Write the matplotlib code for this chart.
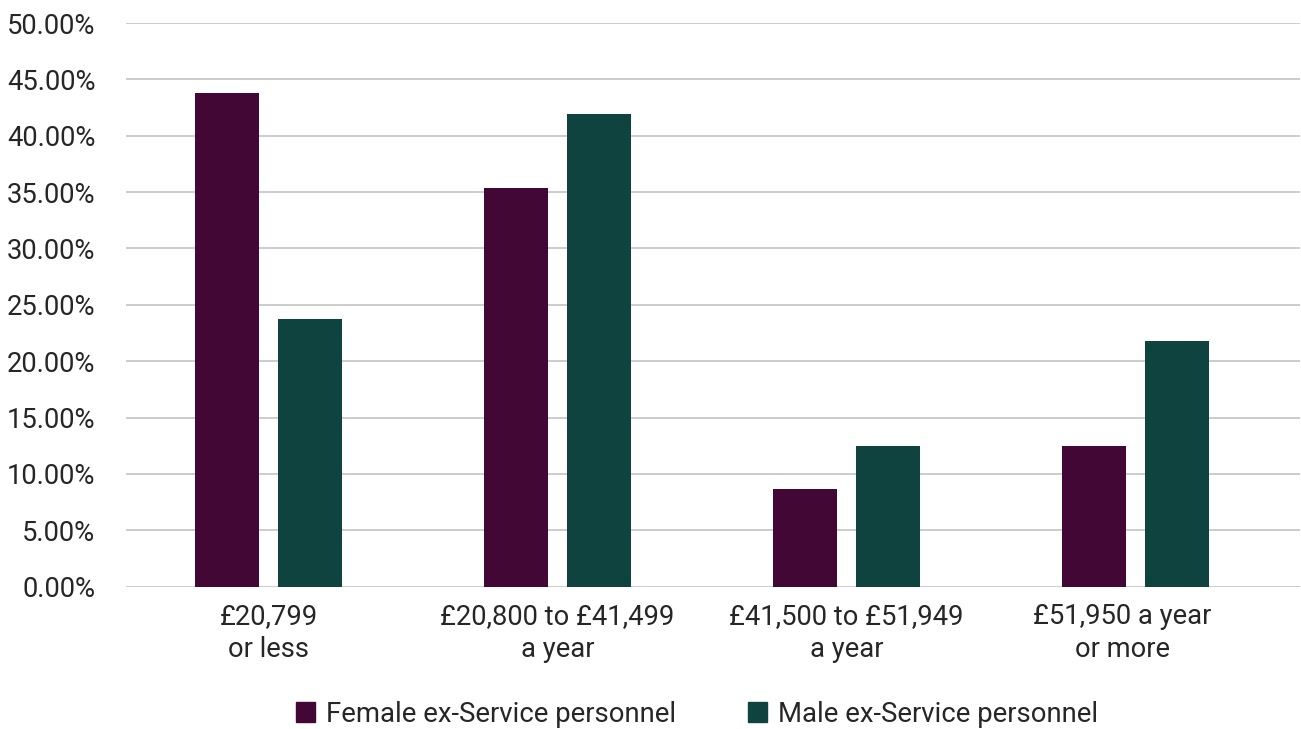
import numpy as np
import matplotlib.pyplot as plt
from matplotlib.patches import Patch
from matplotlib.transforms import ScaledTranslation

plt.rcParams['font.family'] = ['Roboto', 'DejaVu Sans']

# income bands and share of each group (%)
bands = ['£20,799\nor less', '£20,800 to £41,499\na year',
         '£41,500 to £51,949\na year', '£51,950 a year\nor more']
female = [43.79, 35.36, 8.67, 12.48]
male = [23.74, 41.93, 12.48, 21.79]

female_col = '#430736'
male_col = '#0e4340'
text_col = '#262626'

fig = plt.figure(figsize=(13.01, 7.29), dpi=100)
ax = fig.add_axes([126 / 1301, 1 - 586.7 / 729, 1174 / 1301, 563.7 / 729])

x = np.arange(len(bands))
w = 0.2215
ax.bar(x - 0.1436, female, w, color=female_col, zorder=3)
ax.bar(x + 0.1436, male, w, color=male_col, zorder=3)

ax.set_ylim(0, 50)
ax.set_xlim(-0.493, 3.569)
ax.set_yticks(np.arange(0, 51, 5))
ax.set_yticklabels([f'{v:.2f}%' for v in np.arange(0, 51, 5)])
ax.set_xticks(x)
ax.set_xticklabels(bands, linespacing=1.25)
ax.tick_params(axis='both', length=0, labelsize=19.7, colors=text_col)
ax.tick_params(axis='x', pad=12)
ax.tick_params(axis='y', pad=22)
ax.grid(axis='y', color='#bfbfbf', linewidth=1.1, zorder=0)
for s in ax.spines.values():
    s.set_visible(False)

# the last band's label sits a little left of its bars
lbl = ax.get_xticklabels()[3]
lbl.set_transform(lbl.get_transform() + ScaledTranslation(-0.13, 0, fig.dpi_scale_trans))

handles = [Patch(color=female_col, label='Female ex-Service personnel'),
           Patch(color=male_col, label='Male ex-Service personnel')]
fig.legend(handles=handles, loc='center', bbox_to_anchor=(697 / 1301, 1 - 714 / 729),
           ncol=2, frameon=False, fontsize=19.8, handlelength=0.7, handleheight=0.7,
           handletextpad=0.4, columnspacing=2.6, labelcolor=text_col)

fig.savefig('out.png', dpi=100, facecolor='white')
